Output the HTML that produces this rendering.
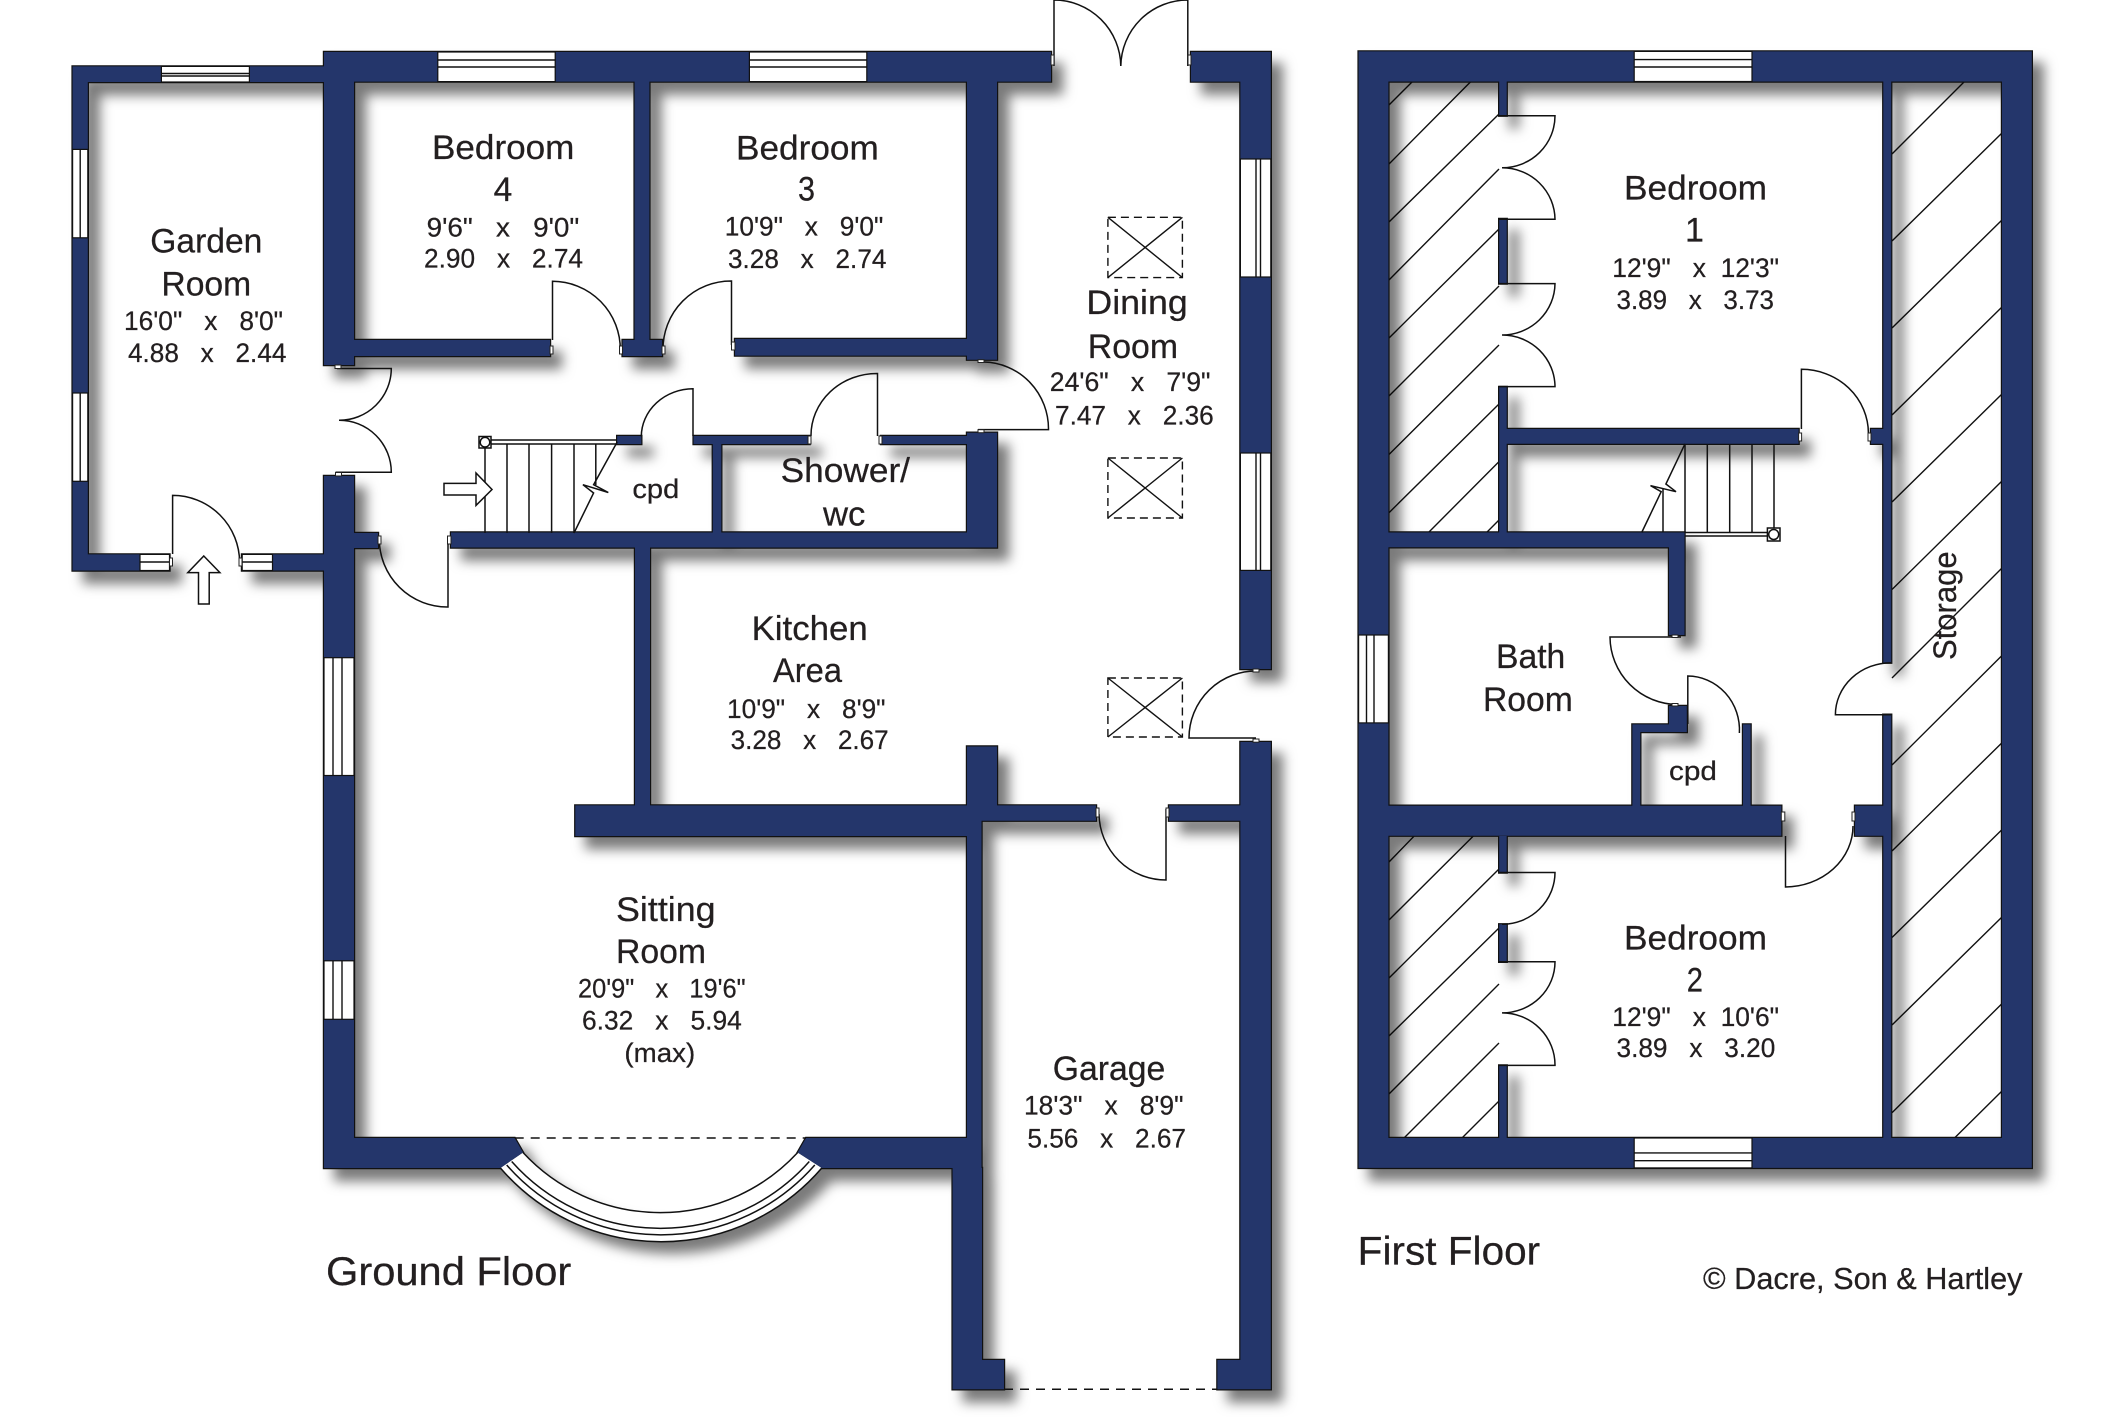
<!DOCTYPE html>
<html><head><meta charset="utf-8"><title>Floor plan</title>
<style>
html,body{margin:0;padding:0;background:#fff}
svg{display:block}
text{font-family:"Liberation Sans",sans-serif;fill:#231f20;stroke:#231f20;stroke-width:.25;white-space:pre}
.l{font-size:34px}.d{font-size:27px}.t{font-size:40px}
.n{fill:none;stroke:#111;stroke-width:1.5}
.h{fill:none;stroke:#111;stroke-width:1.4}
.w{fill:#fff;stroke:#111;stroke-width:1.2}
.j{fill:#fff;stroke:#222;stroke-width:1}
</style></head><body>
<svg xmlns="http://www.w3.org/2000/svg" width="2126" height="1417" viewBox="0 0 2126 1417">
<defs>
<filter id="s" x="-5%" y="-5%" width="110%" height="110%" color-interpolation-filters="sRGB">
<feDropShadow dx="11" dy="12" stdDeviation="6" flood-color="#000" flood-opacity=".52"/>
</filter>
<path id="walls" d="
M72.6 66.4H324V82H72.6Z M72.6 66.4H87.8V570.5H72.6Z M72.6 554.4H169.5V570.5H72.6Z M242 554.4H324V570.5H242Z
M324 52H354V365H324Z M324 52H1051V81.6H324Z M354 340H550V356H354Z M634.6 81.6H649.4V356H634.6Z M622.6 340H662V356H622.6Z
M735 339H967V355.6H735Z M967 81.6H997V359.7H967Z M1191 52H1270.8V81.6H1191Z M1240.4 52H1270.8V669H1240.4Z
M617.2 436H641.3V444H617.2Z M693.6 436H809.6V444H693.6Z M881 436H967V444H881Z M967 432.7H997V547.5H967Z
M451 532.5H997V547.5H451Z M712.8 444H721.3V533H712.8Z M324 476H354V1168H324Z M354 533H378V548H354Z
M324 1138H514.7L523 1152.5L500.4 1168H324Z M635 547H650V806H635Z M575.3 805.4H967V836H575.3Z M967 746.5H997V805.4H967Z
M967 805.4H1096V820.7H967Z M967 805.4H981.5V1168H967Z M1169 805.4H1241V820.7H1169Z M1240.4 742H1270.8V1389.3H1240.4Z
M806 1138H981.5V1168H821.8L797.7 1152.5Z M952.6 1168H982V1389.3H952.6Z M982 1360H1004V1389.3H982Z M1217.4 1360H1240.8V1389.3H1217.4Z
M1358.6 51.4H2031.8V81.5H1358.6Z M1358.6 51.4H1388.4V1167.9H1358.6Z M2002 51.4H2031.8V1167.9H2002Z M1358.6 1138H2031.8V1167.9H1358.6Z
M1499.2 81.5H1506.7V115.7H1499.2Z M1499.2 219H1506.7V283.6H1499.2Z M1499.2 387H1506.7V532.5H1499.2Z
M1499.2 429H1798.6V443.8H1499.2Z M1871 429H1883.8V443.8H1871Z M1883.3 81.5H1891.2V662.7H1883.3Z M1883.3 714.7H1891.2V1138H1883.3Z
M1388 532.5H1684.5V547.3H1388Z M1669 532.5H1684.5V635H1669Z M1669 706H1686.8V732H1669Z M1632.4 724.4H1669V732H1632.4Z
M1632.4 724.4H1640.3V806H1632.4Z M1743 724.4H1750.6V806H1743Z M1388 805.7H1781.3V835.7H1388Z M1855 805.7H1891V835.7H1855Z
M1499.2 836H1506.7V872.5H1499.2Z M1499.2 924.3H1506.7V961.8H1499.2Z M1499.2 1065.4H1506.7V1138H1499.2Z"/>
</defs>

<!-- hatching -->
<g class="h" stroke-width="1.3">
<path d="M1389 105L1412 82M1389 164L1470.4 82M1389 222L1499 114M1389 280L1499 169M1389 338L1499 229M1389 396L1499 286M1389 454.5L1499 345M1389 512.7L1499 404M1428.5 532.5L1499 461.6M1486.6 532.5L1499 520"/>
<path d="M1389 862L1414.5 835.7M1389 920L1473.6 835.7M1389 978L1499 869M1389 1036L1499 928M1389 1094L1499 984M1404 1138L1499 1043M1462 1138L1499 1101"/>
<path d="M1892 154L1964 82M1892 241L2002 133M1892 328L2002 220M1892 415L2002 307M1892 502L2002 394M1892 589.5L2002 481M1892 678L2002 568M1892 765L2002 655.5M1892 851L2002 742.7M1892 937.5L2002 829.6M1892 1025L2002 917M1892 1112.8L2002 1003.6M1954.5 1138L2002 1091"/>
</g>

<!-- walls with shadow -->
<g filter="url(#s)">
<use href="#walls" fill="#24366b" stroke="#111" stroke-width="2.4"/>
<path d="M523 1152.5A187 187 0 0 0 797.7 1152.5L821.8 1168A212 212 0 0 1 500.4 1168Z" fill="#fff"/>
<rect x="161.4" y="66.4" width="88" height="15.6" fill="#fff"/>
<rect x="437.8" y="52" width="117.4" height="29.6" fill="#fff"/>
<rect x="749.4" y="52" width="117.4" height="29.6" fill="#fff"/>
<rect x="72.6" y="149.4" width="15.2" height="88.4" fill="#fff"/>
<rect x="72.6" y="393" width="15.2" height="88.3" fill="#fff"/>
<rect x="140" y="554.4" width="29.5" height="16.1" fill="#fff"/>
<rect x="242.2" y="554.4" width="30.3" height="16.1" fill="#fff"/>
<rect x="324" y="657.7" width="30" height="117.8" fill="#fff"/>
<rect x="324" y="960.8" width="30" height="58.5" fill="#fff"/>
<rect x="1240.4" y="159" width="30.4" height="118" fill="#fff"/>
<rect x="1240.4" y="453" width="30.4" height="117.4" fill="#fff"/>
<rect x="1634.2" y="51.4" width="117.8" height="30.1" fill="#fff"/>
<rect x="1634.2" y="1138" width="117.8" height="29.9" fill="#fff"/>
<rect x="1358.6" y="635" width="29.8" height="87.9" fill="#fff"/>
</g>
<use href="#walls" fill="#24366b"/>

<!-- windows -->
<rect class="w" x="161.4" y="66.4" width="88" height="15.6"/><path class="h" d="M161.4 73.5H249.4M161.4 76H249.4"/>
<rect class="w" x="437.8" y="52" width="117.4" height="29.6"/><path class="h" d="M437.8 60H555.2M437.8 67H555.2"/>
<rect class="w" x="749.4" y="52" width="117.4" height="29.6"/><path class="h" d="M749.4 60H866.8M749.4 67H866.8"/>
<rect class="w" x="72.6" y="149.4" width="15.2" height="88.4"/><path class="h" d="M80.2 149.4V237.8"/>
<rect class="w" x="72.6" y="393" width="15.2" height="88.3"/><path class="h" d="M80.2 393V481.3"/>
<rect class="w" x="140" y="554.4" width="29.5" height="16.1"/><path class="h" d="M140 562H169.5"/>
<rect class="w" x="242.2" y="554.4" width="30.3" height="16.1"/><path class="h" d="M242.2 562H272.5"/>
<rect class="w" x="324" y="657.7" width="30" height="117.8"/><path class="h" d="M333 657.7V775.5M342 657.7V775.5"/>
<rect class="w" x="324" y="960.8" width="30" height="58.5"/><path class="h" d="M333 960.8V1019.3M342 960.8V1019.3"/>
<rect class="w" x="1240.4" y="159" width="30.4" height="118"/><path class="h" d="M1256 159V277M1260.5 159V277"/>
<rect class="w" x="1240.4" y="453" width="30.4" height="117.4"/><path class="h" d="M1256 453V570.4M1260.5 453V570.4"/>
<rect class="w" x="1634.2" y="51.4" width="117.8" height="30.1"/><path class="h" d="M1634.2 59.6H1752M1634.2 67H1752"/>
<rect class="w" x="1634.2" y="1138" width="117.8" height="29.9"/><path class="h" d="M1634.2 1152.9H1752M1634.2 1160.7H1752"/>
<rect class="w" x="1358.6" y="635" width="29.8" height="87.9"/><path class="h" d="M1366.5 635V722.9M1374 635V722.9"/>

<!-- bay window -->
<g class="n">
<path d="M523 1152.5A187 187 0 0 0 797.7 1152.5"/>
<path d="M511.7 1161.5A199 199 0 0 0 809.3 1161.5"/>
<path d="M506.7 1165A204.8 204.8 0 0 0 814.8 1165"/>
<path d="M500.4 1168A212 212 0 0 0 821.8 1168"/>
<path d="M514.7 1138H806" stroke-dasharray="9 7"/>
<path d="M1004 1389.3H1217.4" stroke-dasharray="9 7"/>
</g>

<!-- doors -->
<g class="n">
<path d="M172.6 554V495.4A67 67 0 0 1 239.6 562"/>
<path d="M337 368.5H391.3A52 52 0 0 1 339 420.3A52 52 0 0 1 391.3 472.2H335.5"/>
<path d="M379.3 539A68 68 0 0 0 448 607V537"/>
<path d="M552.5 340V281.3A68 68 0 0 1 620.3 350"/>
<path d="M731.5 345V281A68 68 0 0 0 663 350"/>
<path d="M693 436V388.8A52 48 0 0 0 641.3 436.5"/>
<path d="M877.5 436V373.5A66 62 0 0 0 811 436"/>
<path d="M978 429.6H1048.5A66 67 0 0 0 983.8 362"/>
<path d="M1054 66V0A67 67 0 0 1 1120.8 66"/>
<path d="M1187.8 66V0A67 67 0 0 0 1120.8 66"/>
<path d="M1258 671A67 67 0 0 0 1189 738H1256"/>
<path d="M1099 814A67 67 0 0 0 1166 880V809"/>
<path d="M1499 115.7H1555A53 52 0 0 1 1502 167.8A53 52 0 0 1 1555 219.3H1499"/>
<path d="M1499 283.6H1555A53 52 0 0 1 1502 335A53 52 0 0 1 1555 386.6H1499"/>
<path d="M1801.4 429V369.3A67 64 0 0 1 1868.4 433"/>
<path d="M1891 662.7A56 52 0 0 0 1835.4 714.7H1891"/>
<path d="M1681 637H1610A68 68 0 0 0 1677.5 704.5"/>
<path d="M1687.8 724V676A52 54 0 0 1 1739.4 733"/>
<path d="M1853 826A68 61 0 0 1 1785.5 887V836"/>
<path d="M1499 872.5H1555A53 52 0 0 1 1502 924.3"/>
<path d="M1499 961.8H1555A53 51 0 0 1 1502 1012.9A53 52 0 0 1 1555 1065.4H1499"/>
</g>

<!-- jambs -->
<g class="j">
<rect x="550" y="346" width="3" height="8"/><rect x="619.5" y="346" width="3" height="8"/><rect x="662" y="346" width="3" height="8"/><rect x="731.5" y="342" width="3.5" height="8"/>
<rect x="335" y="365" width="6" height="3.5"/><rect x="335.5" y="472.5" width="6" height="3.5"/>
<rect x="378" y="536" width="3" height="8"/><rect x="447.5" y="536" width="3.5" height="8"/>
<rect x="169.5" y="558" width="3" height="8"/><rect x="239" y="558" width="3" height="8"/>
<rect x="808" y="436" width="3" height="8"/><rect x="879" y="436" width="3" height="8"/>
<rect x="978" y="359.7" width="6" height="2.8"/><rect x="978" y="429.7" width="6" height="3"/>
<rect x="1051" y="55" width="3" height="10"/><rect x="1188" y="55" width="3" height="10"/>
<rect x="1253" y="669" width="6" height="3"/><rect x="1253" y="739" width="6" height="3.2"/>
<rect x="1096" y="808" width="3" height="9"/><rect x="1166" y="808" width="3" height="9"/>
<rect x="1798.6" y="433" width="3" height="8"/><rect x="1868" y="433" width="3" height="8"/>
<rect x="1781.3" y="812" width="3.5" height="9"/><rect x="1852" y="812" width="3" height="9"/>
<rect x="1672" y="635" width="6" height="2.5"/><rect x="1672" y="703.5" width="6" height="2.5"/>
</g>

<!-- stairs -->
<g class="n" stroke-width="1.3">
<path d="M485 442V533M507 444V533M529 444V533M551.6 444V533M574 444V533M595.8 444V485"/>
<path d="M491 440H617M491 444H617"/>
<path d="M617.2 442L593.6 484.7L608.3 492.5L582.9 484.7L593.6 493L574 533"/>
<rect x="479" y="436.5" width="12" height="11.5" fill="#fff"/><circle cx="485" cy="442.2" r="4.8" fill="#fff"/>
<path d="M444 483.4H476V473L492 489.5L476 505.4V495H444Z" fill="#fff"/>
<path d="M203.8 556L219.9 572.6H209.2V604H198.5V572.6H187.8Z" fill="#fff"/>
<path d="M1685 444V532M1707.3 444V532M1729.7 444V532M1752 444V532M1774 444V528M1663 489V532"/>
<path d="M1685 443.8L1665.9 484L1676 491.7L1650.5 485.6L1661.2 491.7L1641.7 532.5"/>
<path d="M1684.5 532.5H1768M1684.5 536H1768"/>
<rect x="1767.4" y="528" width="12.6" height="13" fill="#fff"/><circle cx="1773.7" cy="534.5" r="5" fill="#fff"/>
</g>

<!-- skylights -->
<g class="h">
<rect x="1107.9" y="217.3" width="74.5" height="60.3" stroke-dasharray="8 5"/><path d="M1107.9 217.3L1182.4 277.6M1182.4 217.3L1107.9 277.6"/>
<rect x="1107.9" y="458" width="74.5" height="60" stroke-dasharray="8 5"/><path d="M1107.9 458L1182.4 518M1182.4 458L1107.9 518"/>
<rect x="1107.9" y="678" width="74.5" height="59" stroke-dasharray="8 5"/><path d="M1107.9 678L1182.4 737M1182.4 678L1107.9 737"/>
</g>

<!-- labels -->
<g>
<text class="l" x="150.3" y="252.3" textLength="112" lengthAdjust="spacingAndGlyphs">Garden</text>
<text class="l" x="161.4" y="295.4" textLength="89.8" lengthAdjust="spacingAndGlyphs">Room</text>
<text class="d" x="124" y="329.9" textLength="159" lengthAdjust="spacingAndGlyphs">16'0"   x   8'0"</text>
<text class="d" x="128" y="362.2" textLength="158.4" lengthAdjust="spacingAndGlyphs">4.88   x   2.44</text>

<text class="l" x="432" y="159" textLength="142.4" lengthAdjust="spacingAndGlyphs">Bedroom</text>
<text class="l" x="493.6" y="201.2" textLength="18.7" lengthAdjust="spacingAndGlyphs">4</text>
<text class="d" x="426.6" y="236.5" textLength="152.7" lengthAdjust="spacingAndGlyphs">9'6"   x   9'0"</text>
<text class="d" x="424" y="267.6" textLength="159" lengthAdjust="spacingAndGlyphs">2.90   x   2.74</text>

<text class="l" x="736" y="159.7" textLength="142.8" lengthAdjust="spacingAndGlyphs">Bedroom</text>
<text class="l" x="798" y="200.5" textLength="17" lengthAdjust="spacingAndGlyphs">3</text>
<text class="d" x="724.8" y="235.7" textLength="158.5" lengthAdjust="spacingAndGlyphs">10'9"   x   9'0"</text>
<text class="d" x="728" y="267.9" textLength="158.4" lengthAdjust="spacingAndGlyphs">3.28   x   2.74</text>

<text class="d" x="632.4" y="498" textLength="46.9" lengthAdjust="spacingAndGlyphs">cpd</text>

<text class="l" x="1086.4" y="314" textLength="101.4" lengthAdjust="spacingAndGlyphs">Dining</text>
<text class="l" x="1087.8" y="358" textLength="90.2" lengthAdjust="spacingAndGlyphs">Room</text>
<text class="d" x="1049.8" y="391" textLength="160.7" lengthAdjust="spacingAndGlyphs">24'6"   x   7'9"</text>
<text class="d" x="1055" y="424.5" textLength="158.7" lengthAdjust="spacingAndGlyphs">7.47   x   2.36</text>

<text class="l" x="780.6" y="482" textLength="129.4" lengthAdjust="spacingAndGlyphs">Shower/</text>
<text class="l" x="823" y="525.5" textLength="42.4" lengthAdjust="spacingAndGlyphs">wc</text>

<text class="l" x="751.6" y="640" textLength="116.1" lengthAdjust="spacingAndGlyphs">Kitchen</text>
<text class="l" x="773" y="682" textLength="69" lengthAdjust="spacingAndGlyphs">Area</text>
<text class="d" x="727" y="718" textLength="158.5" lengthAdjust="spacingAndGlyphs">10'9"   x   8'9"</text>
<text class="d" x="730.6" y="749" textLength="158.1" lengthAdjust="spacingAndGlyphs">3.28   x   2.67</text>

<text class="l" x="616" y="921" textLength="99.6" lengthAdjust="spacingAndGlyphs">Sitting</text>
<text class="l" x="616" y="963" textLength="90" lengthAdjust="spacingAndGlyphs">Room</text>
<text class="d" x="578" y="997.5" textLength="167.6" lengthAdjust="spacingAndGlyphs">20'9"   x   19'6"</text>
<text class="d" x="582" y="1029.7" textLength="159.8" lengthAdjust="spacingAndGlyphs">6.32   x   5.94</text>
<text class="d" x="624.4" y="1062" textLength="70.8" lengthAdjust="spacingAndGlyphs">(max)</text>

<text class="l" x="1052.8" y="1080" textLength="112.5" lengthAdjust="spacingAndGlyphs">Garage</text>
<text class="d" x="1024" y="1114.3" textLength="159.5" lengthAdjust="spacingAndGlyphs">18'3"   x   8'9"</text>
<text class="d" x="1027.4" y="1147.7" textLength="158.6" lengthAdjust="spacingAndGlyphs">5.56   x   2.67</text>

<text class="t" x="326" y="1285" textLength="245.3" lengthAdjust="spacingAndGlyphs">Ground Floor</text>

<text class="l" x="1624" y="199.4" textLength="143" lengthAdjust="spacingAndGlyphs">Bedroom</text>
<text class="l" x="1694.5" y="241.7" text-anchor="middle">1</text>
<text class="d" x="1612.3" y="277" textLength="166.7" lengthAdjust="spacingAndGlyphs">12'9"   x  12'3"</text>
<text class="d" x="1616.5" y="309" textLength="157.5" lengthAdjust="spacingAndGlyphs">3.89   x   3.73</text>

<text class="l" x="1496" y="667.8" textLength="69.3" lengthAdjust="spacingAndGlyphs">Bath</text>
<text class="l" x="1483" y="711" textLength="89.8" lengthAdjust="spacingAndGlyphs">Room</text>
<text class="d" x="1669" y="780" textLength="48" lengthAdjust="spacingAndGlyphs">cpd</text>

<text class="l" transform="translate(1956 660) rotate(-90)" style="font-size:32px" textLength="108.6" lengthAdjust="spacingAndGlyphs">Storage</text>

<text class="l" x="1624" y="949.3" textLength="143" lengthAdjust="spacingAndGlyphs">Bedroom</text>
<text class="l" x="1686.8" y="991.4" textLength="16.2" lengthAdjust="spacingAndGlyphs">2</text>
<text class="d" x="1612.3" y="1026" textLength="166.7" lengthAdjust="spacingAndGlyphs">12'9"   x  10'6"</text>
<text class="d" x="1616.5" y="1057" textLength="158.8" lengthAdjust="spacingAndGlyphs">3.89   x   3.20</text>

<text class="t" x="1357.7" y="1264.6" textLength="182.5" lengthAdjust="spacingAndGlyphs">First Floor</text>
<text style="font-size:31px" x="1703" y="1289" textLength="319.5" lengthAdjust="spacingAndGlyphs">© Dacre, Son &amp; Hartley</text>
</g>
</svg>
</body></html>
